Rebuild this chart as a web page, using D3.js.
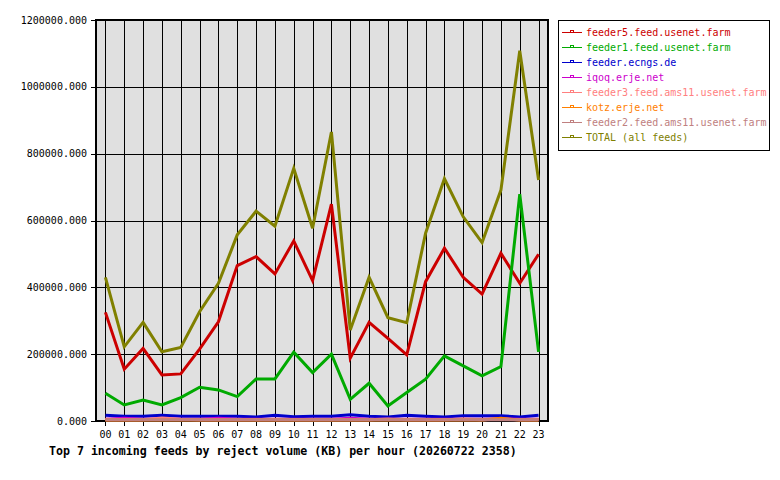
<!DOCTYPE html>
<html lang="en">
    <head>
        <meta charset="UTF-8">
        <style>
            html, body{
                margin: 0;
                padding: 0;
                background: #fff;
            }
            svg text{
                font-family: 'DejaVu Sans Mono', 'Liberation Mono', monospace;
            }
        </style>
    </head>
    <body>
        <svg id = "chart" width = "780" height = "480"></svg>

        <script src="https://d3js.org/d3.v7.min.js"></script>
        <script>
            ///////////////////////////////////////////////////////////
            //// DATA (values in KB)        ////
            ///////////////////////////////////////////////////////////

            const hours = ['00','01','02','03','04','05','06','07','08','09','10','11',
                           '12','13','14','15','16','17','18','19','20','21','22','23']

            const feedNames = [
                'feeder5.feed.usenet.farm',
                'feeder1.feed.usenet.farm',
                'feeder.ecngs.de',
                'iqoq.erje.net',
                'feeder3.feed.ams11.usenet.farm',
                'kotz.erje.net',
                'feeder2.feed.ams11.usenet.farm',
                'TOTAL (all feeds)'
            ]
            const feedColours = ['#cc0000', '#00aa00', '#0000cc', '#cc00cc', '#ff8080', '#ff8000', '#c08080', '#808000']

            const feeder5 = [325000, 155000, 217000, 138000, 141000, 215000, 297000, 465000, 492000, 440000, 539000, 420000,
                             649000, 188000, 295000, 247000, 198000, 417000, 517000, 430000, 380000, 502000, 412000, 499000]
            const feeder1 = [83000, 48000, 63000, 48000, 70000, 101000, 93000, 73000, 126000, 126000, 206000, 145000,
                             200000, 65000, 113000, 45000, 85000, 125000, 195000, 165000, 135000, 163000, 679000, 207000]
            const ecngs   = [17000, 14000, 14000, 17000, 14000, 14000, 14000, 14000, 12000, 17000, 13000, 14000,
                             14000, 19000, 14000, 12000, 17000, 14000, 12000, 16000, 16000, 16000, 12000, 17000]
            const iqoq    = [5000, 8000, 5000, 6000, 5000, 5000, 8000, 5000, 5000, 5000, 5000, 5000,
                             5000, 8000, 5000, 5000, 5000, 5000, 5000, 5000, 5000, 6000, 5000, 5000]
            const feeder3 = [4000, 4000, 4000, 9000, 5000, 4000, 4000, 4000, 4000, 4000, 4000, 4000,
                             4000, 4000, 4000, 6000, 4000, 4000, 4000, 6000, 4000, 5000, 4000, 4000]
            const kotz    = [3000, 3000, 3000, 3000, 3000, 3000, 3000, 3000, 3000, 3000, 3000, 3000,
                             3000, 3000, 3000, 3000, 3000, 3000, 3000, 3000, 3000, 8000, 3000, 3000]
            const feeder2 = [4000, 4000, 4000, 4000, 4000, 4000, 4000, 4000, 4000, 4000, 4000, 4000,
                             4000, 4000, 4000, 4000, 4000, 4000, 4000, 4000, 4000, 4000, 4000, 4000]
            const total   = [430000, 222000, 295000, 207000, 220000, 327000, 412000, 557000, 628000, 583000, 756000, 577000,
                             865000, 272000, 430000, 309000, 294000, 562000, 725000, 611000, 534000, 691000, 1108000, 721000]

            const seriesValues = [feeder5, feeder1, ecngs, iqoq, feeder3, kotz, feeder2, total]
            const yTicks = [0, 200000, 400000, 600000, 800000, 1000000, 1200000]
            const chartTitle = 'Top 7 incoming feeds by reject volume (KB) per hour (20260722 2358)'

            ///////////////////////////////////////////////////////////
            //// RENDER                                              ////
            ///////////////////////////////////////////////////////////

            const plot = {left: 96, right: 548, top: 20, bottom: 421}
            const svg = d3.select('#chart')

            const x = d3.scalePoint().domain(hours).range([plot.left, plot.right]).padding(0.5)
            const y = d3.scaleLinear().domain([0, 1200000]).range([plot.bottom, plot.top])

            // plot background
            svg.append('rect')
                .attr('x', plot.left).attr('y', plot.top)
                .attr('width', plot.right - plot.left).attr('height', plot.bottom - plot.top)
                .attr('fill', '#e0e0e0')

            // grid
            const grid = svg.append('g').attr('stroke', '#000').attr('stroke-width', 1).attr('shape-rendering', 'crispEdges')
            grid.selectAll('.hgrid').data(yTicks).join('line')
                .attr('x1', plot.left - 5).attr('x2', plot.right)
                .attr('y1', d => Math.round(y(d)) + 0.5).attr('y2', d => Math.round(y(d)) + 0.5)
            grid.selectAll('.vgrid').data(hours).join('line')
                .attr('x1', d => Math.round(x(d)) + 0.5).attr('x2', d => Math.round(x(d)) + 0.5)
                .attr('y1', plot.top).attr('y2', plot.bottom + 5)

            // frame (drawn under the series, as in the original)
            svg.append('rect')
                .attr('x', plot.left).attr('y', plot.top)
                .attr('width', plot.right - plot.left).attr('height', plot.bottom - plot.top)
                .attr('fill', 'none').attr('stroke', '#000').attr('stroke-width', 2)

            // y axis labels
            svg.append('g').selectAll('text').data(yTicks).join('text')
                .attr('x', plot.left - 9)
                .attr('y', d => y(d) + 3.5)
                .attr('text-anchor', 'end')
                .attr('font-size', '10px')
                .attr('fill', '#000')
                .text(d => d3.format('.3f')(d))

            // x axis labels
            svg.append('g').selectAll('text').data(hours).join('text')
                .attr('x', d => x(d))
                .attr('y', 438)
                .attr('text-anchor', 'middle')
                .attr('font-size', '10px')
                .attr('fill', '#000')
                .text(d => d)

            // series lines
            const line = d3.line().x((d, i) => x(hours[i])).y(d => y(d))
            svg.append('g').selectAll('path').data(seriesValues).join('path')
                .attr('d', d => line(d))
                .attr('fill', 'none')
                .attr('stroke', (d, i) => feedColours[i])
                .attr('stroke-width', 3)
                .attr('stroke-linejoin', 'miter')

            // legend
            const legend = svg.append('g')
            legend.append('rect')
                .attr('x', 558.5).attr('y', 20.5).attr('width', 211).attr('height', 130)
                .attr('fill', '#fff').attr('stroke', '#000').attr('stroke-width', 1)
            const rows = legend.selectAll('g').data(feedNames).join('g')
                .attr('transform', (d, i) => 'translate(0,' + (32 + i * 15) + ')')
            rows.append('line')
                .attr('x1', 562).attr('x2', 582).attr('y1', 0.5).attr('y2', 0.5)
                .attr('stroke', (d, i) => feedColours[i]).attr('stroke-width', 1)
            rows.append('rect')
                .attr('x', 570.5).attr('y', -1.5).attr('width', 3).attr('height', 2)
                .attr('fill', '#fff').attr('stroke', (d, i) => feedColours[i]).attr('stroke-width', 1)
            rows.append('text')
                .attr('x', 586).attr('y', 4)
                .attr('font-size', '10px')
                .attr('fill', (d, i) => feedColours[i])
                .text(d => d)

            // title
            svg.append('text')
                .attr('x', 49).attr('y', 455)
                .attr('font-size', '11.6px')
                .attr('font-weight', 'bold')
                .attr('fill', '#000')
                .text(chartTitle)
        </script>
    </body>
</html>
